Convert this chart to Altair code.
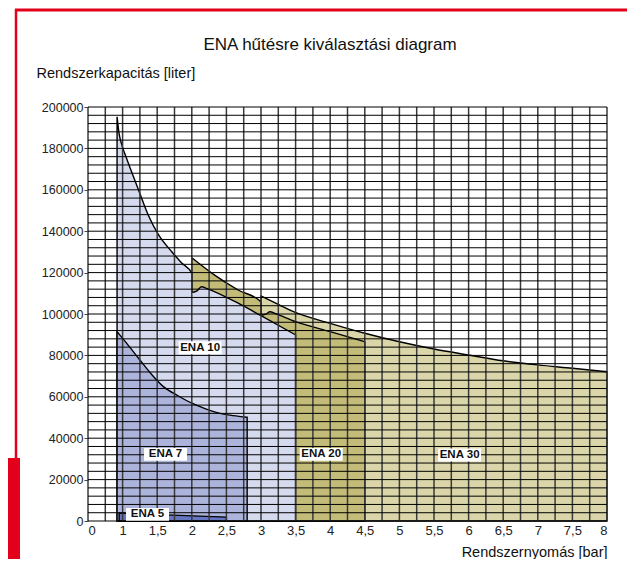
import altair as alt
import pandas as pd
import numpy as np

# ---- data ----
x_ticks = [0.5, 1, 1.5, 2, 2.5, 3, 3.5, 4, 4.5, 5, 5.5, 6, 6.5, 7, 7.5, 8]
y_ticks = [0, 20000, 40000, 60000, 80000, 100000, 120000, 140000, 160000, 180000, 200000]

ena30_x = [3.0, 3.25, 3.47, 4.0, 4.5, 5.0, 5.5, 6.0, 6.5, 7.0, 7.5, 8.0]
ena30_y = [108700, 104700, 101100, 95500, 90700, 86600, 83100, 80200, 77400, 75400, 73800, 72100]

ena20_x = [2.0, 2.33, 2.67, 2.999, 3.0, 3.07, 3.13, 3.2, 3.5, 4.0, 4.5]
ena20_y = [127200, 118800, 111600, 105800, 99500, 99900, 101100, 100300, 96300, 91500, 86600]

ena10_x = [0.92, 0.95, 0.99, 1.05, 1.11, 1.23, 1.37, 1.52, 1.71, 1.85, 1.999, 2.0, 2.07, 2.14, 2.22, 2.67, 3.0, 3.5]
ena10_y = [195300, 187000, 181600, 175800, 170400, 159900, 147800, 138200, 130100, 124800, 119700, 110500, 111100, 113200, 112300, 105200, 99200, 89900]

ena7_x = [0.92, 1.06, 1.25, 1.42, 1.59, 1.8, 2.0, 2.2, 2.41, 2.6, 2.8]
ena7_y = [91500, 85800, 77800, 70800, 64900, 60500, 56900, 54200, 52000, 50900, 50100]

ena5_x = [0.95, 2.5]
ena5_y = [3800, 1900]

series_names = ["ENA 30", "ENA 20", "ENA 10", "ENA 7", "ENA 5"]
series_x = [ena30_x, ena20_x, ena10_x, ena7_x, ena5_x]
series_y = [ena30_y, ena20_y, ena10_y, ena7_y, ena5_y]
series_colors = ["#dad6a9", "#c3bc78", "#d6daef", "#adb4dc", "#6575c2"]

label_text = ["ENA 10", "ENA 7", "ENA 5", "ENA 20", "ENA 30"]
label_x = [2.12, 1.62, 1.36, 3.87, 5.87]
label_y = [83700, 32200, 3200, 32200, 31900]

grid_x = list(np.arange(0.5, 8.001, 0.25))
grid_y = list(range(0, 200001, 4000))

FONT = "Liberation Sans"

rows = []
for name, xs, ys in zip(series_names, series_x, series_y):
    for xv, yv in zip(xs, ys):
        rows.append({"s": name, "x": xv, "y": yv})
df = pd.DataFrame(rows)

xscale = alt.Scale(domain=[0.5, 8], nice=False, zero=False)
yscale = alt.Scale(domain=[0, 200000], nice=False)

x_axis = alt.Axis(
    values=x_ticks,
    labelExpr="datum.value == 0.5 ? '0' : replace(toString(datum.value), '.', ',')",
    ticks=False, domain=False, grid=False, labelPadding=3,
    labelFontSize=13, labelColor="#222", labelFont=FONT,
    title="Rendszernyomás [bar]", titleFont=FONT, titleFontSize=14.5,
    titleFontWeight="normal", titleColor="#111",
    titleX=519, titleY=31, titleAlign="right", titleBaseline="middle", titleAnchor="end",
)
y_axis = alt.Axis(
    values=y_ticks, format="d",
    domain=False, grid=False, tickSize=4, tickColor="#444", labelPadding=1,
    labelFontSize=12.5, labelColor="#222", labelFont=FONT,
    title="Rendszerkapacitás [liter]", titleFont=FONT, titleFontSize=14.5,
    titleFontWeight="normal", titleColor="#111", titleAngle=0,
    titleX=-52, titleY=-34, titleAlign="left", titleBaseline="middle", titleAnchor="start",
)

X = alt.X("x:Q", scale=xscale, axis=x_axis)
Y = alt.Y("y:Q", scale=yscale, axis=y_axis, stack=None)

layers = []
for name, col in zip(series_names, series_colors):
    layers.append(
        alt.Chart(df)
        .transform_filter(alt.datum.s == name)
        .mark_area(fill=col, stroke="black", strokeWidth=1.4, fillOpacity=1, interpolate="monotone")
        .encode(x=X, y=Y)
    )

vgrid = alt.Chart(pd.DataFrame({"x": grid_x})).mark_rule(color="#3a3a3a", strokeWidth=1.5).encode(x=X)
hgrid = alt.Chart(pd.DataFrame({"y": grid_y})).mark_rule(color="#000", strokeWidth=1.0).encode(y=Y)

ldf = pd.DataFrame({"t": label_text, "x": label_x, "y": label_y})
boxes = alt.Chart(ldf).mark_point(
    shape="M-1,-0.3L1,-0.3L1,0.3L-1,0.3Z", size=1849, filled=True, fill="white", opacity=1, strokeWidth=0
).encode(x=X, y=Y)
texts = alt.Chart(ldf).mark_text(font=FONT, fontSize=11.5, fontWeight="bold", color="#111").encode(
    x=X, y=Y, text="t:N"
)

title = alt.Chart(alt.Data(values=[{"t": "ENA hűtésre kiválasztási diagram"}])).mark_text(
    font=FONT, fontSize=17, color="#111", align="center", baseline="middle"
).encode(x=alt.value(242), y=alt.value(-62), text="t:N")

RED = "#e2001a"
one = alt.Data(values=[{"a": 1}])
red_top = alt.Chart(one).mark_rule(color=RED, strokeWidth=3).encode(
    x=alt.value(-73), x2=alt.value(540), y=alt.value(-97)
)
red_left = alt.Chart(one).mark_rule(color=RED, strokeWidth=2.5).encode(
    x=alt.value(-72), y=alt.value(-98), y2=alt.value(352)
)
red_block = alt.Chart(one).mark_rect(color=RED).encode(
    x=alt.value(-80), x2=alt.value(-68), y=alt.value(351), y2=alt.value(452)
)

chart = alt.layer(*layers, vgrid, hgrid, boxes, texts, title, red_top, red_left, red_block).properties(
    width=519, height=414,
    autosize=alt.AutoSizeParams(type="none"),
    padding={"left": 80, "top": 99, "right": 20, "bottom": 38},
).configure_view(stroke=None)

chart.save("out.html", embed_options={"renderer": "svg", "actions": False})
